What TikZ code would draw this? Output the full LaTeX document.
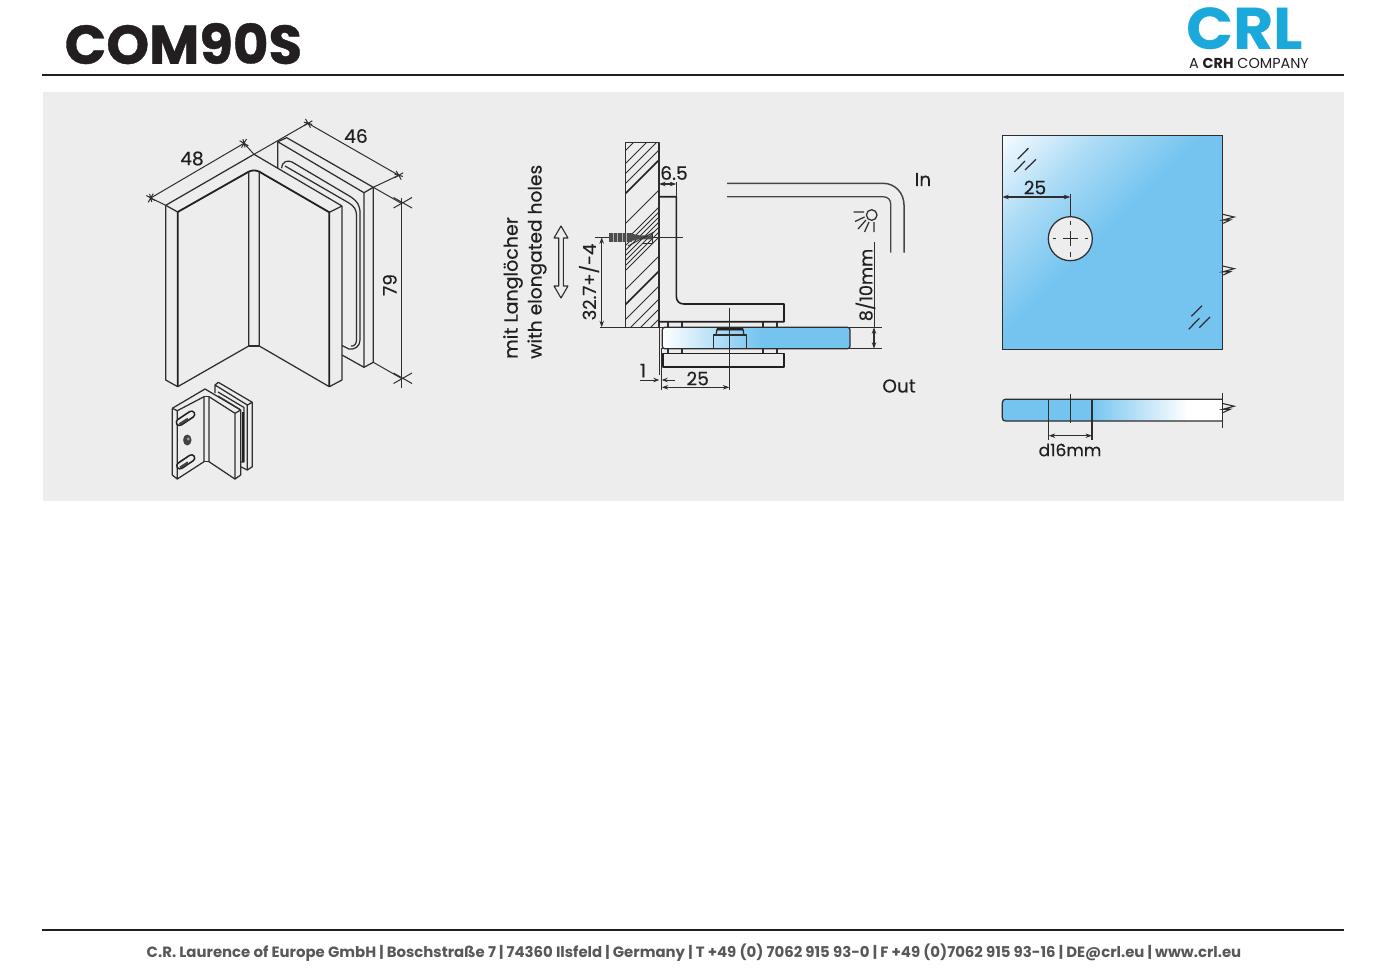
\documentclass[tikz,border=0pt]{standalone}
\usepackage{fontspec}
\setmainfont{Poppins}
\newfontfamily\titlefont{Poppins}[BoldFeatures={FakeBold=.7}]
\newfontfamily\labfont{Poppins}[FakeBold=.3]
\usetikzlibrary{arrows.meta}
\definecolor{ink}{HTML}{231F20}
\definecolor{linec}{HTML}{2F2D2E}
\definecolor{panel}{HTML}{EDEDED}
\definecolor{glassb}{HTML}{75C4F0}
\definecolor{crl}{HTML}{1BA9DC}
\definecolor{foot}{HTML}{58585A}
\pgfdeclareverticalshading{glassdiag}{100bp}{color(0bp)=(glassb); color(53bp)=(glassb); color(69bp)=(glassb!62!white); color(85bp)=(glassb!8!white); color(100bp)=(white)}
\pgfdeclarehorizontalshading{glasssec}{100bp}{color(0bp)=(white); color(25bp)=(white); color(51bp)=(glassb); color(100bp)=(glassb)}
\pgfdeclarehorizontalshading{glassedge}{100bp}{color(0bp)=(glassb); color(45bp)=(glassb); color(67bp)=(white); color(100bp)=(white)}
\tikzset{
  ln/.style={draw=linec,line width=1.25pt,line join=round},
  hv/.style={draw=ink,line width=1.8pt,line join=round},
  thn/.style={draw=linec,line width=1pt},
  dimln/.style={draw=linec,line width=1.05pt,{Stealth[length=6.5pt,width=4.5pt]}-{Stealth[length=6.5pt,width=4.5pt]}},
  lab/.style={text=ink,font=\labfont\fontsize{18.6}{19}\selectfont,inner sep=0pt},
  star/.pic={\draw[linec,line width=1pt] (-5,0)--(5,0) (0,-5)--(0,5) (-3,-3)--(3,3);},
}
\newcommand{\zig}[2]{\draw[linec,line width=1.1pt] (#1,#2-3.5)--(#1+11.5,#2-.8)--(#1+.5,#2+2.2)--(#1+7.5,#2+2.2)--(#1+.5,#2+5.5);}
\begin{document}
\begin{tikzpicture}[x=1pt,y=-1pt]
\useasboundingbox (0,0) rectangle (1388,971);
\fill[white] (0,0) rectangle (1388,971);
\fill[panel] (43,92) rectangle (1344,500.5);
\draw[ink,line width=1.4pt] (42,75)--(1344,75);
\draw[ink,line width=1.2pt] (42,930)--(1344,930);
% header
\node[anchor=base west,inner sep=0pt,text=ink,font=\titlefont\bfseries\fontsize{54.6}{55}\selectfont] (title) at (64.5,63.8) {COM90S};
\node[anchor=base west,inner sep=0pt,text=crl,font=\bfseries\fontsize{59}{59}\selectfont,xscale=1.05] (logo) at (1186,49.3) {CRL};
\node[anchor=base,inner sep=0pt,text=ink,font=\fontsize{14.4}{14}\selectfont] (logosub) at (1249,68.5) {A \textbf{CRH} COMPANY};
\node[anchor=center,inner sep=0pt,text=foot,font=\bfseries\fontsize{14.9}{15}\selectfont] (footer) at (694,953) {C.R. Laurence of Europe GmbH | Boschstraße 7 | 74360 Ilsfeld | Germany | T +49 (0) 7062 915 93-0 | F +49 (0)7062 915 93-16 | DE@crl.eu | www.crl.eu};
% large isometric
\draw[ln] (165.7,205.3)--(254,154.3)--(342,206);
\draw[ln] (165.7,205.3)--(165.7,380)--(177.7,386.7);
\draw[ln] (342,206)--(342,380)--(329.3,386.7);
\draw[ln] (165.7,205.3)--(177.7,212);
\draw[ln] (342,206)--(329.3,212.3);
\draw[hv] (177.7,386.7)--(177.7,212)--(248.7,171.7) .. controls (252,170) and (256,170) .. (259.3,171.7)--(329.3,212.3)--(329.3,386.7);
\draw[ln] (248.7,171.7)--(248.7,346)--(177.7,386.7);
\draw[ln] (259.3,171.7)--(259.3,346)--(329.3,386.7);
\draw[ln] (248.7,346)--(259.3,346);
% back plate
\draw[ln] (277.7,168.3)--(277.7,141.7)--(286.7,137.7)--(373.3,187.3)--(364,192.7)--(277.7,141.7);
\draw[ln] (364,192.7)--(364,367.3)--(373.3,362.3)--(373.3,187.3);
\draw[ln] (342,355)--(364,367.3);
\draw[ln] (281.7,168.3) .. controls (282,161) and (288,160) .. (292,162)--(351,197) .. controls (357,201) and (360,205) .. (360,213)--(360,340) .. controls (360,346) and (355,350) .. (349,349)--(342,345.5);
\draw[ln] (285,166)--(349,203) .. controls (354,206) and (356.5,210) .. (356.5,215)--(356.5,340) .. controls (356.5,344) and (354,346.5) .. (351,346);
% dims
\draw[thn] (150.7,198)--(244,143.3);
\draw[thn] (150.7,198)--(165.7,205.3);
\draw[thn] (244,143.3)--(254,154.3);
\draw[thn] (308,123.3)--(254,154.3);
\draw[thn] (308,123.3)--(398.7,175.3);
\draw[thn] (398.7,175.3)--(373.3,187.3);
\draw[thn] (373.3,187.3)--(401.3,203.3);
\draw[thn] (373.3,362.3)--(401.3,378.3);
\draw[thn] (401.3,198)--(401.3,388);
\draw[thn] (393.5,208)--(412,197.5) (393.5,197.5)--(412,208);
\draw[thn] (393.5,383.5)--(412,373) (393.5,373)--(412,383.5);
\path (150.7,198) pic[rotate=-30] {star} (244,143.3) pic[rotate=-30] {star} (308,123.3) pic[rotate=30] {star} (398.7,175.3) pic[rotate=30] {star};
\node[lab] (d48) at (192,158.5) {48};
\node[lab] (d46) at (356,136) {46};
\node[lab,rotate=90] (d79) at (389.8,285) {79};
% small isometric
\draw[ln] (172.3,408.3)--(205,389)--(240.7,410)--(240.7,475)--(235,479)--(235,413.3);
\draw[ln] (172.3,408.3)--(172.3,475)--(177.3,479)--(177.3,410.7)--(172.3,408.3);
\draw[ln] (235,413.3)--(240.7,410);
\draw[ln] (177.3,410.7)--(204,396.7)--(204,461.7)--(177.3,479);
\draw[ln] (235,413.3)--(209,396.7)--(209,461.7)--(235,479);
\draw[ln] (204,396.7)--(209,396.7) (204,461.7)--(209,461.7);
\draw[ln] (215,393)--(215,385)--(218.3,382.3)--(252.3,402.3)--(247.3,405)--(215,385);
\draw[ln] (247.3,405)--(247.3,470)--(252.3,466.7)--(252.3,402.3);
\draw[ln] (240.7,466.7)--(247.3,470);
\draw[ln] (218,396)--(240,409.5) (218,392)--(244,407.5)--(244,462)--(241,462);
\draw[ink,line width=2pt] (243,412)--(243,462);
\draw[ink,line width=8pt,line cap=round] (179.5,422.3)--(191.5,414.3);
\draw[panel,line width=4.6pt,line cap=round] (179.5,422.3)--(191.5,414.3);
\draw[ink!85,line width=2.4pt] (179.5,424.3)--(188,418.8);
\draw[ink,line width=8pt,line cap=round] (180,465.7)--(191.5,458);
\draw[panel,line width=4.6pt,line cap=round] (180,465.7)--(191.5,458);
\draw[ink!85,line width=2.4pt] (180,467.7)--(188,462.5);
\fill[ink!85] (187.3,440) ellipse (4.2 and 5.5);
\fill[panel!60!ink] (188.3,439) circle (1.6);
% wall section
\begin{scope}
\clip (625.7,142.3) rectangle (659,326.7);
\foreach \c in {776,789,799,809,849,866,871,876,881,886,891,896,915,945,958,968,978}{
  \draw[linec,line width=.9pt] (620,\c-620)--(665,\c-665);
}
\foreach \c in {819,930}{
  \draw[ink,line width=1.5pt] (620,\c-620)--(665,\c-665);
}
\end{scope}
\draw[ln] (625.7,327)--(625.7,142.3)--(659,142.3)--(659,327);
% bracket
\draw[hv,line width=1.6pt] (659,196.7)--(676.3,196.7)--(676.3,296) .. controls (676.3,301) and (679,304) .. (684,304)--(784,304)--(784,321.7)--(659,321.7);
\draw[ln] (668,321.7)--(668,327) (682,321.7)--(682,327) (763,321.7)--(763,327) (777,321.7)--(777,327);
% glass
\path[shading=glasssec,rounded corners=2.5pt] (662.3,327.3) rectangle (850,348.7);
\draw[ln,rounded corners=2.5pt] (662.3,327.3) rectangle (850,348.7);
\draw[ln,line width=1.1pt] (600,327.3)--(882,327.3);
\draw[ln,line width=1.1pt] (662.3,348.7)--(882,348.7);
\draw[ln] (668,348.7)--(668,353.3) (682,348.7)--(682,353.3) (763,348.7)--(763,353.3) (777,348.7)--(777,353.3);
\draw[hv,line width=1.6pt] (662.7,353.3) rectangle (784,366.7);
% bolt
\draw[ln] (713.3,348.7)--(713.3,335)--(746.7,335)--(746.7,348.7);
\draw[ln] (716,335)--(717,329.5)--(743,329.5)--(744,335);
\fill[ink] (717,328)--(743,328)--(743.5,330.3)--(716.5,330.3)--cycle;
% centre and edge lines
\draw[thn] (729.3,308.3)--(729.3,390);
\draw[ln] (659.3,321.7)--(659.3,375);
\draw[thn] (661.7,348)--(661.7,390);
% screw
\draw[thn] (595,237.3)--(683,237.3);
\fill[ink!80] (609.3,232.8) rectangle (632,241.8);
\fill[ink!80] (632,233.8)--(639,235.3)--(652.7,235.3)--(652.7,239.3)--(639,239.3)--(632,240.8)--cycle;
\foreach \x in {613,617.5,622,626.5}{\draw[panel!70!ink,line width=.8pt] (\x,232.8)--(\x,241.8);}
\draw[ln,line width=.9pt] (652.7,234)--(652.7,243)--(643,243);
\draw[ln,line width=.9pt] (628,246)--(654,232);
% dims section
\draw[dimln] (659,184)--(676.3,184);
\draw[thn] (676.3,182)--(676.3,196.7);
\node[lab] (d65) at (674,173) {6.5};
\draw[dimln] (601.7,237.3)--(601.7,327.3);
\node[lab,rotate=90,font=\labfont\fontsize{18}{18}\selectfont] (d327) at (589,282) {32.7+/-4};
\draw[thn,-{Stealth[length=6pt,width=4.5pt]}] (640,380)--(659.3,380);
\draw[thn,-{Stealth[length=6pt,width=4.5pt]}] (675,380)--(661.7,380);
\node[lab] (d1) at (643,370.5) {1};
\draw[dimln] (661.7,387.3)--(729.3,387.3);
\node[lab] (d25a) at (697.7,378.5) {25};
\draw[thn] (874,241.7)--(874,327.3);
\draw[dimln] (874,327.3)--(874,348.7);
\node[lab,rotate=90,font=\labfont\fontsize{17.6}{18}\selectfont] (d810) at (865.5,285) {8/10mm};
% hollow arrow
\draw[ln,fill=panel,line width=1.1pt] (561,226)--(568,238)--(563.3,238)--(563.3,286)--(568,286)--(561,298)--(554,286)--(558.7,286)--(558.7,238)--(554,238)--cycle;
\node[lab,rotate=90,anchor=west,font=\labfont\fontsize{19}{19}\selectfont] (t1) at (513,359) {mit Langlöcher};
\node[lab,rotate=90,anchor=west] (t2) at (537,359) {with elongated holes};
% In / Out
\draw[draw=foot!80!black,line width=1.5pt] (727,183.3)--(883,183.3) .. controls (895,183.3) and (904,193) .. (904,205)--(904,252.7);
\draw[draw=foot!80!black,line width=1.3pt] (727,196.7)--(883,196.7) .. controls (888,196.7) and (890.7,200) .. (890.7,204)--(890.7,252.7);
\draw[ln] (871.7,215) circle (5.3);
\draw[ln] (853.5,212)--(864,212) (855,221.5)--(864.5,217) (858,229)--(866,220) (864.5,232)--(869,222) (874,232)--(874,222);
\node[lab] (lin) at (923,179.5) {In};
\node[lab] (lout) at (899,386) {Out};
% glass front
\path[shading=glassdiag,shading angle=45] (1002.3,135.7) rectangle (1222.7,349.3);
\draw[draw=linec,line width=1.5pt] (1002.3,135.7) rectangle (1222.7,349.3);
\draw[ln,fill=panel] (1070.3,238.7) circle (22);
\draw[thn] (1070.3,194)--(1070.3,216.7);
\draw[thn] (1063,238.7)--(1077.6,238.7) (1070.3,231.4)--(1070.3,246);
\draw[thn] (1052.5,238.7)--(1056,238.7) (1084.6,238.7)--(1088.1,238.7) (1070.3,220.7)--(1070.3,225) (1070.3,252.4)--(1070.3,256.7);
\draw[dimln] (1002.3,197)--(1070.3,197);
\node[lab] (d25b) at (1035,187.5) {25};
\draw[ln] (1017.7,159)--(1028.3,148.3) (1014.3,172)--(1025,161) (1025,170)--(1036,159.3);
\draw[ln] (1191.3,316.3)--(1202,305.7) (1188.7,329.3)--(1199.3,318.3) (1199.3,327.7)--(1210,317);
\zig{1222.7}{217.8}
\zig{1222.7}{269.5}
% glass edge
\path[shading=glassedge,rounded corners=2.5pt] (1002.3,399.3) rectangle (1222.7,421);
\draw[ln] (1222.7,399.3)--(1005.5,399.3) .. controls (1003.5,399.3) and (1002.3,400.5) .. (1002.3,403)--(1002.3,417.5) .. controls (1002.3,420) and (1003.5,421) .. (1005.5,421)--(1222.7,421);
\draw[ln] (1222.7,393.3)--(1222.7,427.7);
\draw[ln] (1048.7,399.3)--(1048.7,440) (1092,399.3)--(1092,440);
\draw[ln] (1070.3,394.3)--(1070.3,423.3);
\draw[dimln] (1048.7,435.7)--(1092,435.7);
\zig{1222.7}{407}
\node[lab,font=\labfont\fontsize{17}{17}\selectfont] (d16) at (1070,450) {d16mm};
\end{tikzpicture}
\end{document}
